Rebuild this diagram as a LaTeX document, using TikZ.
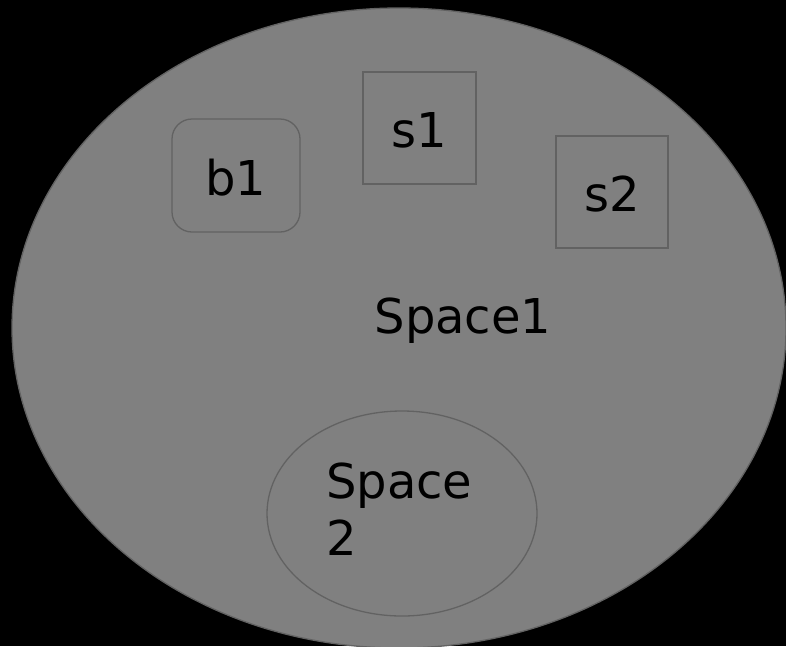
\documentclass[tikz,border=0pt]{standalone}
\usepackage{fontspec}
\setmainfont{DejaVu Sans}
\usetikzlibrary{shapes.geometric}
\definecolor{spacefill}{HTML}{808080}
\definecolor{edgegrey}{HTML}{626262}
\begin{document}
\begin{tikzpicture}[x=1pt,y=-1pt,
  every node/.style={font=\fontsize{48}{57}\selectfont, text=black},
  region/.style={ellipse, draw=edgegrey, fill=spacefill, line width=1.3pt, inner sep=0pt},
  itembox/.style={rectangle, draw=edgegrey, line width=1.3pt, inner sep=0pt},
  label/.style={inner sep=0pt}]
  \fill[black] (0,0) rectangle (786,646);
  \useasboundingbox (0,0) rectangle (786,646);
  % outer space
  \node[region, minimum width=774pt, minimum height=640pt] (space1) at (399,328) {};
  \node[label, anchor=base] (space1label) at (463,333) {Space1};
  % inner space (label wraps onto two lines; base is the last line)
  \node[region, minimum width=270pt, minimum height=205pt] (space2) at (402,513.5) {};
  \node[label, anchor=base west, align=left] (space2label) at (326,555) {Space\\2};
  % items
  \node[itembox, rounded corners=20pt, minimum width=128pt, minimum height=113pt] (b1) at (236,175.5) {};
  \node[label, anchor=base] (b1label) at (236,195) {b1};
  \node[itembox, minimum width=113pt, minimum height=112pt] (s1) at (419.5,128) {};
  \node[label, anchor=base] (s1label) at (419,147) {s1};
  \node[itembox, minimum width=112pt, minimum height=112pt] (s2) at (612,192) {};
  \node[label, anchor=base] (s2label) at (612,211) {s2};
\end{tikzpicture}
\end{document}
